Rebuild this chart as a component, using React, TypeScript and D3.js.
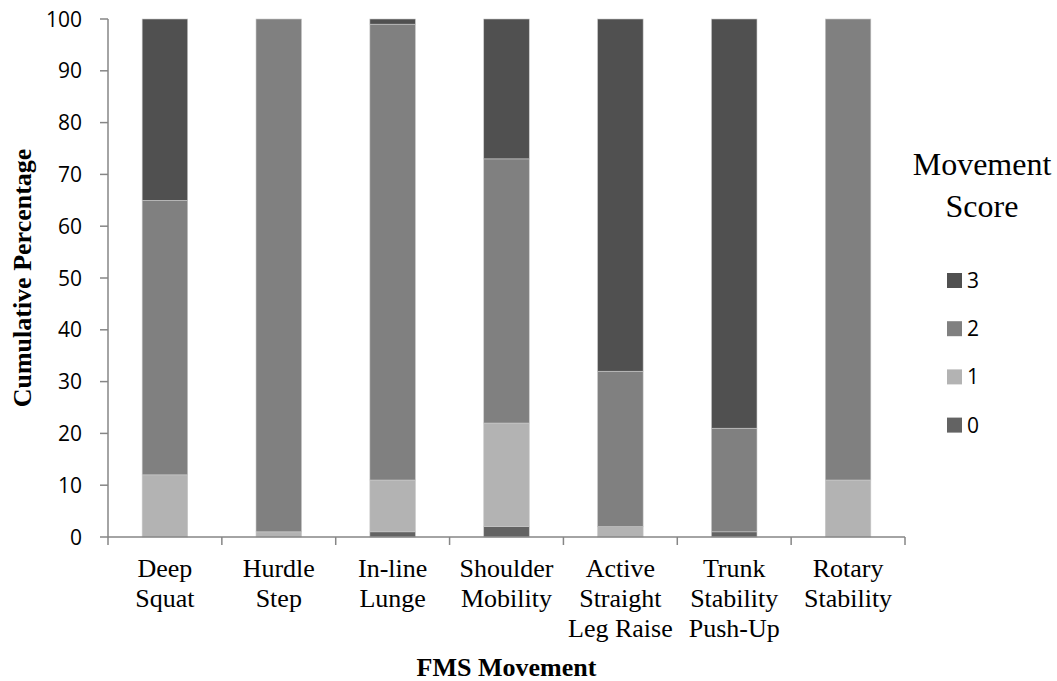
import React, { useEffect, useRef } from 'react';
import * as d3 from 'd3';

// FMS movements, two or three label lines each
const movements: string[][] = [
  ['Deep', 'Squat'],
  ['Hurdle', 'Step'],
  ['In-line', 'Lunge'],
  ['Shoulder', 'Mobility'],
  ['Active', 'Straight', 'Leg Raise'],
  ['Trunk', 'Stability', 'Push-Up'],
  ['Rotary', 'Stability'],
];

// percentage of participants per score, one value per movement
const score0 = [0, 0, 1, 2, 0, 1, 0];
const score1 = [12, 1, 10, 20, 2, 0, 11];
const score2 = [53, 99, 88, 51, 30, 20, 89];
const score3 = [35, 0, 1, 27, 68, 79, 0];

const scoreKeys = ['0', '1', '2', '3'];
const scoreColors: Record<string, string> = { '0': '#636363', '1': '#b3b3b3', '2': '#808080', '3': '#505050' };

const yTicks = [0, 10, 20, 30, 40, 50, 60, 70, 80, 90, 100];

const W = 1057;
const H = 681;
const margin = { top: 19, right: 152, bottom: 144, left: 108 };

const App: React.FC = () => {
  const svgRef = useRef<SVGSVGElement | null>(null);

  useEffect(() => {
    const svg = d3.select(svgRef.current);
    svg.selectAll('*').remove();

    const rows = movements.map((m, i) => ({
      name: m.join(' '),
      lines: m,
      '0': score0[i],
      '1': score1[i],
      '2': score2[i],
      '3': score3[i],
    }));

    const x = d3.scaleBand<string>().domain(rows.map((r) => r.name)).range([margin.left, W - margin.right]).padding(0);
    const y = d3.scaleLinear().domain([0, 100]).range([H - margin.bottom, margin.top]);
    const barW = x.bandwidth() * 0.4;

    const stack = d3.stack<any>().keys(scoreKeys);
    const series = stack(rows);

    const axisColor = '#868686';
    const sans = "'Open Sans', 'Noto Sans', sans-serif";
    const serif = "'Liberation Serif', 'Times New Roman', serif";

    // bars
    const g = svg.append('g');
    series.forEach((s) => {
      g.append('g')
        .attr('fill', scoreColors[s.key])
        .selectAll('rect')
        .data(s)
        .join('rect')
        .attr('x', (d) => (x(d.data.name) ?? 0) + (x.bandwidth() - barW) / 2)
        .attr('width', barW)
        .attr('y', (d) => y(d[1]))
        .attr('height', (d) => Math.max(0, y(d[0]) - y(d[1])))
        .attr('stroke', (d) => (d[1] - d[0] > 0 ? '#c9c9c9' : 'none'))
        .attr('stroke-width', 0.6);
    });

    // y axis
    const yAxis = svg.append('g');
    yAxis.append('line')
      .attr('x1', margin.left).attr('x2', margin.left)
      .attr('y1', y(0)).attr('y2', y(100))
      .attr('stroke', axisColor).attr('stroke-width', 1.5);
    yAxis.selectAll('line.tick').data(yTicks).join('line')
      .attr('class', 'tick')
      .attr('x1', margin.left - 8).attr('x2', margin.left)
      .attr('y1', (d) => y(d)).attr('y2', (d) => y(d))
      .attr('stroke', axisColor).attr('stroke-width', 1.5);
    yAxis.selectAll('text').data(yTicks).join('text')
      .attr('x', 82)
      .attr('y', (d) => y(d))
      .attr('dy', '0.36em')
      .attr('text-anchor', 'end')
      .attr('font-family', sans)
      .attr('font-size', 21)
      .attr('fill', '#000')
      .text((d) => d);

    // x axis
    const xAxis = svg.append('g');
    xAxis.append('line')
      .attr('x1', margin.left).attr('x2', W - margin.right)
      .attr('y1', y(0)).attr('y2', y(0))
      .attr('stroke', axisColor).attr('stroke-width', 1.5);
    const bounds = rows.map((r) => x(r.name) ?? 0).concat([W - margin.right]);
    xAxis.selectAll('line.tick').data(bounds).join('line')
      .attr('class', 'tick')
      .attr('x1', (d) => d).attr('x2', (d) => d)
      .attr('y1', y(0)).attr('y2', y(0) + 8)
      .attr('stroke', axisColor).attr('stroke-width', 1.5);
    const labels = xAxis.selectAll('text').data(rows).join('text')
      .attr('text-anchor', 'middle')
      .attr('font-family', serif)
      .attr('font-size', 26)
      .attr('fill', '#000');
    labels.each(function (r) {
      const t = d3.select(this);
      r.lines.forEach((line, i) => {
        t.append('tspan')
          .attr('x', (x(r.name) ?? 0) + x.bandwidth() / 2)
          .attr('y', 577 + i * 30)
          .text(line);
      });
    });

    // axis titles
    svg.append('text')
      .attr('x', (margin.left + W - margin.right) / 2)
      .attr('y', 676)
      .attr('text-anchor', 'middle')
      .attr('font-family', serif)
      .attr('font-weight', 'bold')
      .attr('font-size', 26)
      .text('FMS Movement');
    svg.append('text')
      .attr('transform', `translate(31,${(y(0) + y(100)) / 2}) rotate(-90)`)
      .attr('text-anchor', 'middle')
      .attr('font-family', serif)
      .attr('font-weight', 'bold')
      .attr('font-size', 26)
      .text('Cumulative Percentage');

    // legend
    const lg = svg.append('g');
    lg.append('text')
      .attr('x', 982).attr('y', 175)
      .attr('text-anchor', 'middle')
      .attr('font-family', serif).attr('font-size', 32)
      .text('Movement');
    lg.append('text')
      .attr('x', 982).attr('y', 217)
      .attr('text-anchor', 'middle')
      .attr('font-family', serif).attr('font-size', 32)
      .text('Score');
    const legendKeys = [...scoreKeys].reverse();
    const item = lg.selectAll('g.item').data(legendKeys).join('g')
      .attr('class', 'item')
      .attr('transform', (_, i) => `translate(947,${280.5 + i * 48.2})`);
    item.append('rect')
      .attr('x', 0).attr('y', -7.5).attr('width', 15).attr('height', 15)
      .attr('fill', (d) => scoreColors[d]);
    item.append('text')
      .attr('x', 20).attr('y', 0).attr('dy', '0.36em')
      .attr('font-family', sans).attr('font-size', 21)
      .text((d) => d);
  }, []);

  return (
    <svg ref={svgRef} width={W} height={H} style={{ display: 'block', position: 'absolute', left: 0, top: 0, background: '#fff' }} />
  );
};

export default App;
